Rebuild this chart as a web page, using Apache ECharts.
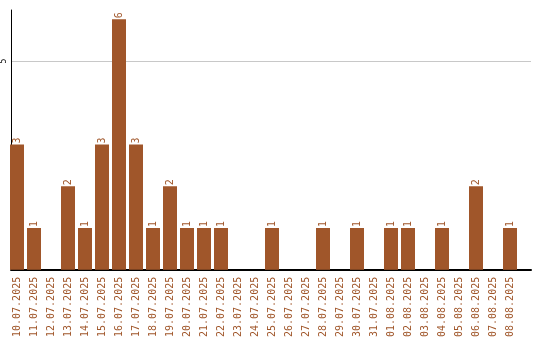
<!DOCTYPE html>
<html><head><meta charset="utf-8">
<script src="https://cdn.jsdelivr.net/npm/echarts@6/dist/echarts.min.js"></script>
<style>html,body{margin:0;padding:0;background:#fff}#c{width:540px;height:340px}</style>
</head><body><div id="c"></div>
<script>
const categories = ["10.07.2025","11.07.2025","12.07.2025","13.07.2025","14.07.2025","15.07.2025","16.07.2025","17.07.2025","18.07.2025","19.07.2025","20.07.2025","21.07.2025","22.07.2025","23.07.2025","24.07.2025","25.07.2025","26.07.2025","27.07.2025","28.07.2025","29.07.2025","30.07.2025","31.07.2025","01.08.2025","02.08.2025","03.08.2025","04.08.2025","05.08.2025","06.08.2025","07.08.2025","08.08.2025"];
const values = [3,1,0,2,1,3,6,3,1,2,1,1,1,0,0,1,0,0,1,0,1,0,1,1,0,1,0,2,0,1];
const yTicks = [5];

const brown = '#A0562A';
const font = 'DejaVu Sans Mono';
const chart = echarts.init(document.getElementById('c'), null, {renderer:'canvas'});
chart.setOption({
  animation:false,
  grid:[
    {left:10, top:10, width:521, height:260},
    {left:8.5, top:10, width:510, height:260}
  ],
  xAxis:[
    {type:'value', gridIndex:0, min:0, max:1, axisLine:{show:true, onZero:false, lineStyle:{color:'#000', width:2}},
     axisTick:{show:false}, axisLabel:{show:false}, splitLine:{show:false}},
    {type:'category', gridIndex:1, data:categories,
     axisLine:{show:false}, axisTick:{show:false}, splitLine:{show:false},
     axisLabel:{interval:0, rotate:90, color:brown, fontFamily:font, fontSize:10, margin:7}}
  ],
  yAxis:[
    {type:'value', gridIndex:0, min:0, max:6.22, interval:5,
     axisLine:{show:true, lineStyle:{color:'#000', width:1}}, axisTick:{show:false},
     axisLabel:{rotate:90, color:'#000', fontFamily:font, fontSize:8, margin:3,
       formatter:v=> yTicks.includes(v) ? String(v) : ''},
     splitLine:{show:false}},
    {type:'value', gridIndex:1, min:0, max:6.22, show:false}
  ],
  series:[{
    type:'line', xAxisIndex:0, yAxisIndex:0, data:[], silent:true, z:0, zlevel:0,
    markLine:{silent:true, symbol:'none', label:{show:false}, z:0,
      lineStyle:{color:'#c8c8c8', width:1, type:'solid'},
      data: yTicks.map(t=>({yAxis:t}))}
  },{
    type:'bar', xAxisIndex:1, yAxisIndex:1, data:values, barWidth:14, z:5,
    itemStyle:{color:brown},
    label:{show:true, position:'top', rotate:90, align:'left', verticalAlign:'middle', distance:1,
      color:brown, fontFamily:font, fontSize:10,
      formatter:p=> p.value ? String(p.value) : ''}
  }]
});
</script></body></html>
